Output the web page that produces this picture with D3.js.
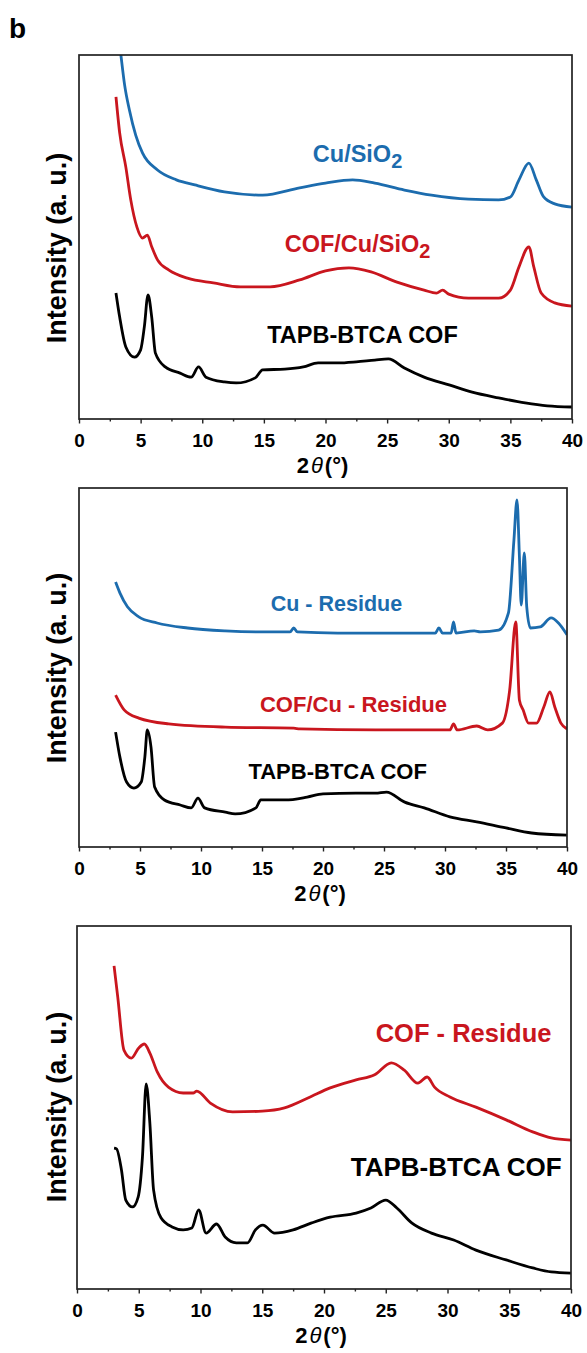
<!DOCTYPE html>
<html>
<head>
<meta charset="utf-8">
<script src="https://cdn.jsdelivr.net/npm/d3@7"></script>
<style>
  body { margin: 0; background: #fff; }
  svg { display: block; font-family: 'Liberation Sans', Arial, sans-serif; }
</style>
</head>
<body>
<div id="chart"></div>
<script>
// XRD patterns, [2theta (deg), intensity (a.u., 0-100 of the frame height)]
const xTicks = [0, 5, 10, 15, 20, 25, 30, 35, 40];

// panel 1
const cuSiO2 = [
  [3.0, 112], [3.4, 100], [3.7, 91.8], [4.09, 84.9], [4.6, 78.0], [5.15, 73.1], [6.37, 68.4],
  [7.9, 65.7], [9.4, 64.3], [11.8, 62.4], [14.9, 61.5], [17.9, 63.5], [20.0, 64.8],
  [22.2, 65.7], [24.0, 64.8], [26.4, 62.9], [28.6, 61.5], [31.6, 60.4], [34.05, 60.2],
  [35.0, 61.0], [35.7, 65.7], [36.5, 70.3], [37.1, 65.7], [37.7, 61.0], [38.6, 59.1], [40.0, 58.2]
];
const cofCuSiO2 = [
  [3.0, 88.5], [3.3, 78.6], [3.8, 69.2], [4.2, 60.2], [4.7, 52.7], [5.15, 49.7], [5.55, 50.5],
  [5.9, 47.3], [6.37, 43.7], [7.3, 40.9], [8.8, 38.7], [10.9, 37.4], [13.1, 36.3], [15.5, 36.3],
  [17.9, 38.2], [20.0, 40.7], [21.9, 41.5], [23.7, 40.4], [25.8, 37.6], [28.0, 35.4],
  [29.0, 34.6], [29.5, 35.4], [30.0, 34.3], [31.6, 33.2], [34.05, 33.2], [35.0, 35.4],
  [35.7, 41.8], [36.5, 47.3], [36.9, 41.8], [37.5, 34.6], [38.6, 31.9], [40.0, 31.0]
];
const cofA = [
  [3.0, 34.6], [3.3, 28.0], [3.8, 19.8], [4.5, 17.0], [5.0, 19.0], [5.3, 25.3], [5.6, 34.1],
  [5.9, 28.0], [6.2, 18.1], [7.0, 14.3], [8.2, 12.6], [9.1, 11.5], [9.7, 14.3], [10.3, 11.5],
  [11.8, 10.2], [12.75, 9.9], [14.3, 11.3], [14.9, 13.5], [16.7, 13.7], [18.2, 14.3],
  [19.4, 15.4], [21.0, 15.4], [22.5, 15.7], [24.0, 16.2], [25.1, 16.5], [26.4, 14.0],
  [28.0, 11.5], [30.1, 9.3], [31.9, 7.4], [34.05, 5.8], [36.2, 4.4], [38.0, 3.6], [40.0, 3.3]
];

// panel 2
const cuResidue = [
  [3.0, 73.8], [3.35, 70.8], [3.97, 66.9], [4.9, 64.1], [6.4, 62.4], [8.9, 61.0], [11.97, 60.2],
  [15.0, 59.9], [17.3, 59.9], [17.6, 61.0], [17.9, 59.9], [21.2, 59.6], [25.8, 59.6],
  [29.2, 59.6], [29.5, 61.0], [29.8, 59.6], [30.5, 59.6], [30.7, 62.7], [30.9, 59.6],
  [32.4, 60.2], [32.9, 59.9], [34.4, 60.4], [35.2, 65.2], [35.65, 85.5], [35.9, 96.7],
  [36.1, 80.8], [36.25, 67.4], [36.5, 81.9], [36.7, 66.9], [37.0, 61.0], [37.8, 61.3],
  [38.7, 63.8], [39.3, 62.4], [40.0, 59.1]
];
const cofCuResidue = [
  [3.0, 42.3], [3.7, 38.2], [4.9, 35.9], [7.35, 34.3], [12.0, 33.4], [17.6, 33.1], [18.1, 32.9],
  [24.3, 32.6], [30.4, 32.6], [30.7, 34.3], [31.0, 32.6], [32.6, 33.7], [33.5, 32.6],
  [34.7, 34.5], [35.3, 43.7], [35.8, 62.7], [36.1, 40.9], [36.4, 38.2], [36.85, 34.5],
  [37.5, 34.5], [38.1, 39.0], [38.6, 43.2], [39.0, 39.0], [39.5, 34.5], [40.0, 32.9]
];
const cofB = [
  [3.0, 32.0], [3.35, 25.1], [3.9, 18.1], [4.5, 16.4], [5.1, 18.1], [5.4, 25.1], [5.6, 32.6],
  [5.9, 27.9], [6.2, 16.7], [7.0, 13.1], [8.3, 11.7], [9.2, 10.9], [9.75, 13.6], [10.3, 10.9],
  [12.0, 9.7], [12.8, 9.2], [14.5, 10.9], [14.9, 13.1], [16.9, 13.1], [18.7, 13.9],
  [20.0, 14.8], [22.7, 15.0], [24.3, 15.0], [25.2, 15.3], [26.7, 12.5], [28.3, 10.9],
  [30.4, 8.4], [32.6, 7.0], [35.0, 5.3], [37.1, 3.9], [40.0, 3.3]
];

// panel 3
const cofResidue = [
  [3.0, 89.0], [3.3, 80.4], [3.8, 65.8], [4.4, 63.6], [5.0, 66.4], [5.45, 67.5], [5.9, 65.0],
  [6.5, 59.8], [7.4, 55.6], [8.6, 54.0], [9.4, 54.0], [9.7, 54.5], [10.8, 51.2], [12.6, 48.8],
  [15.0, 49.0], [16.8, 49.9], [18.7, 52.6], [20.5, 55.4], [22.6, 57.6], [24.1, 59.0],
  [25.45, 62.3], [26.5, 60.3], [27.6, 56.7], [28.35, 58.4], [28.95, 55.6], [30.2, 52.9],
  [32.3, 50.1], [34.75, 46.6], [36.9, 43.3], [38.4, 41.6], [40.0, 41.0]
];
const cofC = [
  [3.0, 38.8], [3.2, 38.6], [3.6, 32.8], [3.95, 24.5], [4.5, 22.6], [4.95, 25.3], [5.3, 36.4],
  [5.6, 56.5], [5.9, 45.7], [6.2, 27.3], [6.8, 19.6], [7.7, 17.1], [8.6, 16.3], [9.3, 16.8],
  [9.85, 21.8], [10.45, 15.4], [11.3, 17.9], [12.0, 14.3], [12.9, 12.7], [13.8, 12.7],
  [14.45, 16.3], [15.05, 17.6], [16.0, 15.4], [17.5, 16.3], [19.0, 18.2], [20.5, 19.8],
  [22.6, 20.9], [23.8, 22.3], [25.0, 24.5], [25.9, 22.3], [27.1, 18.2], [28.7, 15.4],
  [30.5, 13.5], [32.3, 10.7], [34.75, 8.0], [36.9, 5.8], [38.4, 4.7], [40.0, 4.4]
];

const BLUE = '#1c6cae';
const RED = '#c9161e';
const BLACK = '#000';

// frame positions in page pixels, labels in data units
const panels = [
  {
    top: 55, bottom: 419, left: 79, right: 572, yLabel: 248,
    series: [[cuSiO2, BLUE], [cofCuSiO2, RED], [cofA, BLACK]],
    labels: [
      { text: 'Cu/SiO', sub: '2', x: 22.6, y: 70.6, size: 23.5, color: BLUE },
      { text: 'COF/Cu/SiO', sub: '2', x: 22.6, y: 45.9, size: 23.5, color: RED },
      { text: 'TAPB-BTCA COF', x: 23.0, y: 20.9, size: 23.5, color: BLACK }
    ]
  },
  {
    top: 488, bottom: 847, left: 79, right: 567, yLabel: 668,
    series: [[cuResidue, BLUE], [cofCuResidue, RED], [cofB, BLACK]],
    labels: [
      { text: 'Cu - Residue', x: 21.1, y: 65.7, size: 21.5, color: BLUE },
      { text: 'COF/Cu - Residue', x: 22.5, y: 37.6, size: 22, color: RED },
      { text: 'TAPB-BTCA COF', x: 21.2, y: 18.9, size: 22, color: BLACK }
    ]
  },
  {
    top: 926, bottom: 1289, left: 77, right: 571, yLabel: 1107,
    series: [[cofResidue, RED], [cofC, BLACK]],
    labels: [
      { text: 'COF - Residue', x: 31.3, y: 68.0, size: 25.5, color: RED },
      { text: 'TAPB-BTCA COF', x: 30.7, y: 31.1, size: 26, color: BLACK }
    ]
  }
];

const svg = d3.select('#chart').append('svg')
  .attr('width', 587)
  .attr('height', 1353);

svg.append('text')
  .attr('x', 9)
  .attr('y', 38)
  .attr('font-size', 28)
  .attr('font-weight', 'bold')
  .text('b');

panels.forEach((p, i) => {
  const x = d3.scaleLinear().domain([0, 40]).range([p.left, p.right]);
  const y = d3.scaleLinear().domain([0, 100]).range([p.bottom, p.top]);

  const clipId = `clip${i}`;
  svg.append('defs').append('clipPath')
    .attr('id', clipId)
    .append('rect')
    .attr('x', p.left)
    .attr('y', p.top)
    .attr('width', p.right - p.left)
    .attr('height', p.bottom - p.top);

  const line = d3.line()
    .x((d) => x(d[0]))
    .y((d) => y(d[1]))
    .curve(d3.curveMonotoneX);

  const g = svg.append('g').attr('clip-path', `url(#${clipId})`);
  p.series.forEach(([data, color]) => {
    g.append('path')
      .datum(data)
      .attr('fill', 'none')
      .attr('stroke', color)
      .attr('stroke-width', 2.8)
      .attr('stroke-linejoin', 'round')
      .attr('d', line);
  });

  // frame
  svg.append('rect')
    .attr('x', p.left)
    .attr('y', p.top)
    .attr('width', p.right - p.left)
    .attr('height', p.bottom - p.top)
    .attr('fill', 'none')
    .attr('stroke', '#222')
    .attr('stroke-width', 1.7);

  // minor ticks
  const minor = d3.axisBottom(x)
    .tickValues(d3.range(2.5, 40, 5))
    .tickSize(2.5)
    .tickFormat('');
  svg.append('g')
    .attr('transform', `translate(0,${p.bottom})`)
    .call(minor)
    .call((a) => a.select('.domain').remove())
    .selectAll('line').attr('stroke', '#222').attr('stroke-width', 1.4);

  const xAxis = d3.axisBottom(x)
    .tickValues(xTicks)
    .tickSizeInner(4.5)
    .tickSizeOuter(0)
    .tickPadding(10);
  const ax = svg.append('g')
    .attr('transform', `translate(0,${p.bottom})`)
    .call(xAxis);
  ax.select('.domain').remove();
  ax.selectAll('line').attr('stroke', '#222').attr('stroke-width', 1.4);
  ax.selectAll('text')
    .attr('font-family', 'Liberation Sans, Arial, sans-serif')
    .attr('font-size', 19)
    .attr('font-weight', 'bold')
    .attr('fill', '#000');

  // x title
  const xt = svg.append('text')
    .attr('x', (p.left + p.right) / 2 - 3)
    .attr('y', p.bottom + 54)
    .attr('text-anchor', 'middle')
    .attr('font-size', 22)
    .attr('font-weight', 'bold');
  xt.append('tspan').text('2');
  xt.append('tspan').attr('font-style', 'italic').attr('font-weight', 'normal').attr('dx', 2).text('θ');
  xt.append('tspan').attr('dx', 2).text('(°)');

  // y title
  svg.append('text')
    .attr('transform', `translate(66,${p.yLabel}) rotate(-90)`)
    .attr('text-anchor', 'middle')
    .attr('font-size', 27)
    .attr('font-weight', 'bold')
    .text('Intensity (a. u.)');

  // curve labels
  p.labels.forEach((l) => {
    const t = svg.append('text')
      .attr('x', x(l.x))
      .attr('y', y(l.y))
      .attr('text-anchor', 'middle')
      .attr('font-size', l.size)
      .attr('font-weight', 'bold')
      .attr('fill', l.color)
      .text(l.text);
    if (l.sub) {
      t.append('tspan')
        .attr('font-size', l.size * 0.85)
        .attr('dy', l.size * 0.25)
        .text(l.sub);
    }
  });
});
</script>
</body>
</html>
